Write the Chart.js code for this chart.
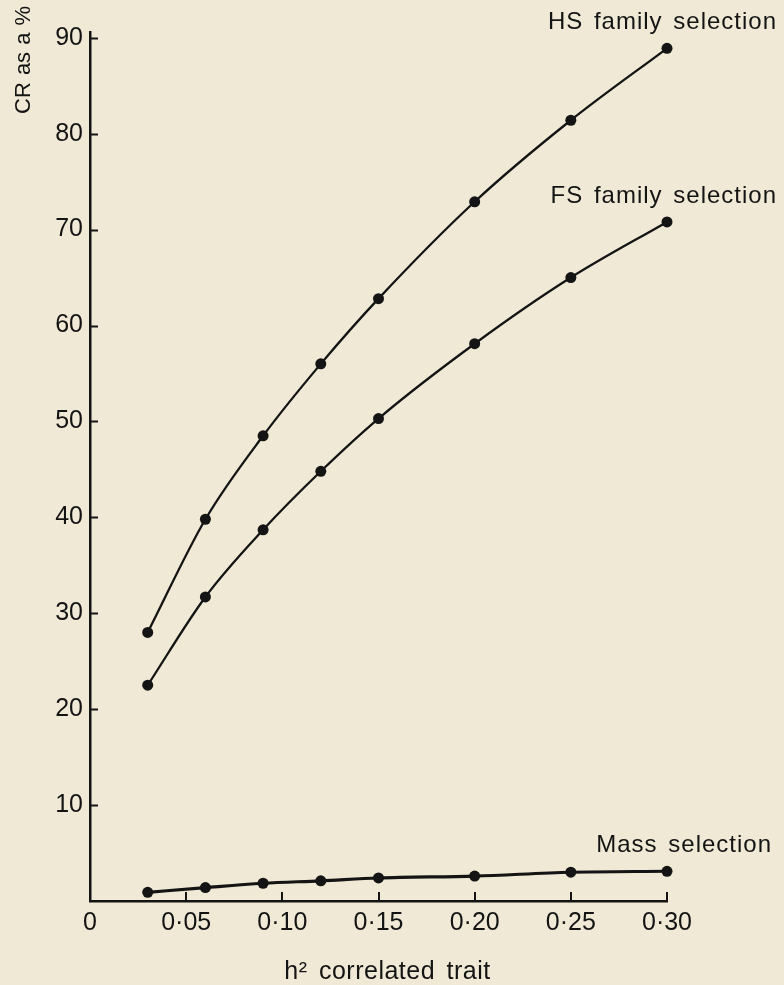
<!DOCTYPE html>
<html>
<head>
<meta charset="utf-8">
<script src="https://cdn.jsdelivr.net/npm/chart.js@4/dist/chart.umd.min.js"></script>
<style>
  html, body { margin: 0; padding: 0; background: #efe9d5; }
  canvas { display: block; }
</style>
</head>
<body>
<canvas id="cr" width="784" height="985"></canvas>
<script>
// heritability of the correlated trait (x) and correlated response as % (y)
const h2 = [0.03, 0.06, 0.09, 0.12, 0.15, 0.20, 0.25, 0.30];
const hsFamily = [28.0, 39.8, 48.5, 56.0, 62.8, 72.9, 81.4, 88.9];
const fsFamily = [22.5, 31.7, 38.7, 44.8, 50.3, 58.1, 65.0, 70.8];
const massSel = [0.9, 1.4, 1.85, 2.1, 2.4, 2.6, 3.0, 3.1];

const seriesNames = ['HS family selection', 'FS family selection', 'Mass selection'];
const xTickValues = [0, 0.05, 0.10, 0.15, 0.20, 0.25, 0.30];
const yTickValues = [10, 20, 30, 40, 50, 60, 70, 80, 90];
const xTitle = 'h\u00B2 correlated trait';
const yTitle = 'CR as a %';

const INK = '#141414';
const FONT = '"Liberation Sans", Arial, Helvetica, sans-serif';

const toPoints = ys => h2.map((x, i) => ({ x, y: ys[i] }));

function series(label, ys, labelDx, width) {
  return {
    label,
    data: toPoints(ys),
    borderColor: INK,
    backgroundColor: INK,
    borderWidth: width,
    pointRadius: 5.5,
    pointBorderWidth: 0,
    cubicInterpolationMode: 'monotone',
    clip: false,
    labelDx
  };
}

// inward tick marks, series names and axis titles
const decorations = {
  id: 'decorations',
  afterDraw(chart) {
    const { ctx, chartArea, scales: { x, y } } = chart;
    ctx.save();
    ctx.strokeStyle = INK;
    ctx.lineWidth = 2;
    ctx.beginPath();
    y.ticks.forEach(t => {
      const py = Math.round(y.getPixelForValue(t.value)) + 0.5;
      ctx.moveTo(chartArea.left, py);
      ctx.lineTo(chartArea.left + 8, py);
    });
    x.ticks.forEach(t => {
      if (t.value === 0) return;
      const px = Math.round(x.getPixelForValue(t.value));
      ctx.moveTo(px, chartArea.bottom);
      ctx.lineTo(px, chartArea.bottom - 9);
    });
    ctx.stroke();

    ctx.fillStyle = INK;
    ctx.font = '24px ' + FONT;
    ctx.textAlign = 'right';
    ctx.textBaseline = 'alphabetic';
    ctx.letterSpacing = '1px';
    ctx.wordSpacing = '3px';
    chart.data.datasets.forEach((ds, i) => {
      const pts = chart.getDatasetMeta(i).data;
      const last = pts[pts.length - 1];
      ctx.fillText(ds.label, chartArea.right + ds.labelDx, last.y - 19);
    });

    ctx.letterSpacing = '0.5px';
    ctx.wordSpacing = '4px';
    ctx.font = '25px ' + FONT;
    ctx.textAlign = 'center';
    ctx.fillText(xTitle, (chartArea.left + chartArea.right) / 2 + 9, chartArea.bottom + 78);

    ctx.font = '22px ' + FONT;
    ctx.letterSpacing = '0px';
    ctx.wordSpacing = '1px';
    ctx.translate(24, chartArea.top + 82);
    ctx.rotate(-Math.PI / 2);
    ctx.textAlign = 'left';
    ctx.textBaseline = 'middle';
    ctx.fillText(yTitle, 0, 0);
    ctx.restore();
  }
};

new Chart(document.getElementById('cr'), {
  type: 'line',
  data: {
    datasets: [
      series(seriesNames[0], hsFamily, 110, 2.3),
      series(seriesNames[1], fsFamily, 110, 2.3),
      series(seriesNames[2], massSel, 105, 3.2)
    ]
  },
  options: {
    responsive: false,
    maintainAspectRatio: false,
    animation: false,
    devicePixelRatio: 1,
    layout: { padding: { left: 0, right: 117, top: 32, bottom: 0 } },
    plugins: { legend: { display: false }, tooltip: { enabled: false } },
    scales: {
      x: {
        type: 'linear',
        min: 0,
        max: 0.30,
        afterBuildTicks: s => { s.ticks = xTickValues.map(v => ({ value: v })); },
        afterFit: s => { s.height = 84; },
        grid: { display: false, drawTicks: false },
        border: { display: true, color: INK, width: 2.5 },
        ticks: {
          padding: 7,
          color: INK,
          font: { family: FONT, size: 25 },
          maxRotation: 0,
          autoSkip: false,
          callback: v => v === 0 ? '0' : v.toFixed(2).replace('.', '\u00B7')
        }
      },
      y: {
        type: 'linear',
        min: 0,
        max: 90.6,
        afterBuildTicks: s => { s.ticks = yTickValues.map(v => ({ value: v })); },
        afterFit: s => { s.width = 90; },
        grid: { display: false, drawTicks: false },
        border: { display: true, color: INK, width: 2.5 },
        ticks: {
          padding: 7,
          color: INK,
          font: { family: FONT, size: 25 },
          autoSkip: false,
          callback: v => String(v)
        }
      }
    }
  },
  plugins: [decorations]
});
</script>
</body>
</html>
